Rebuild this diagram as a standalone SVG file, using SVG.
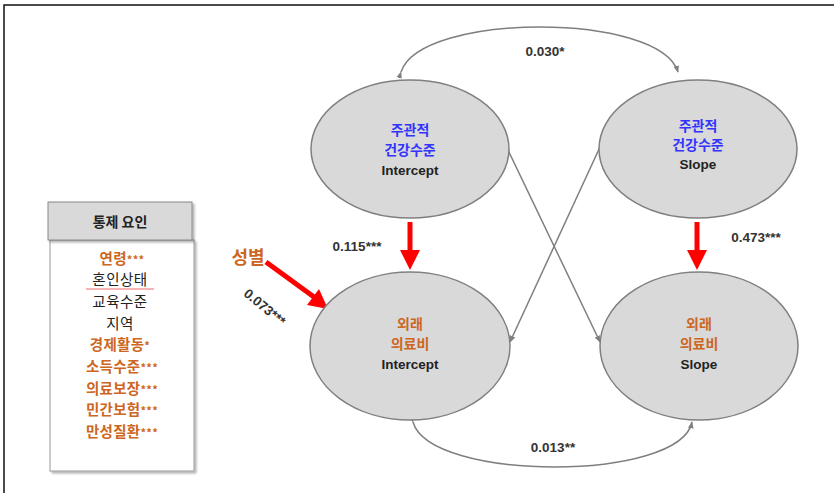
<svg xmlns="http://www.w3.org/2000/svg" width="834" height="493" viewBox="0 0 834 493">
<style>
.node ellipse{fill:#d9d9d9;stroke:#7f7f7f;stroke-width:1.5}
text{font-family:"Noto Sans CJK KR","Liberation Sans",sans-serif;text-anchor:middle}
.ko{font-size:14px;font-weight:bold}
.blue{fill:#3333ff}
.org{fill:#cc6622}
.en{font-family:"Liberation Sans",sans-serif;font-size:13.5px;font-weight:bold;fill:#222}
.lab{font-family:"Liberation Sans",sans-serif;font-size:13.5px;font-weight:bold;fill:#333}
.thin{fill:none;stroke:#7f7f7f;stroke-width:1.5}
.red{fill:none;stroke:#ff0000;stroke-width:5}
.item{font-size:14.5px;fill:#222;letter-spacing:0.5px}
.itemb{font-size:14.5px;font-weight:bold;fill:#cc6622;letter-spacing:0.3px}
</style>
<defs>
<marker id="ga" viewBox="0 0 10 10" refX="9" refY="5" markerWidth="7" markerHeight="7" orient="auto" markerUnits="userSpaceOnUse"><path d="M0,1 L10,5 L0,9 z" fill="#7f7f7f"/></marker>
<filter id="sh" x="-10%" y="-10%" width="130%" height="130%"><feDropShadow dx="2" dy="2" stdDeviation="1.2" flood-color="#000" flood-opacity="0.3"/></filter>
</defs>
<rect width="834" height="493" fill="#fff"/>
<path d="M4,493 L4,5 L834,5" fill="none" stroke="#111" stroke-width="1.5"/>

<g id="controls">
<rect x="50" y="240" width="144" height="231" fill="#fff" stroke="#999" stroke-width="1" filter="url(#sh)"/>
<rect x="48" y="202" width="144" height="38" fill="#d9d9d9" stroke="#888" stroke-width="1" filter="url(#sh)"/>
<text x="120" y="227" style="font-size:14px;font-weight:bold;fill:#222">통제 요인</text>
<text x="122" y="264" class="itemb">연령<tspan style="font-size:11px">***</tspan></text>
<text x="120" y="285" class="item">혼인상태</text>
<line x1="86" y1="289" x2="154" y2="289" stroke="#ee4444" stroke-width="0.8"/>
<text x="120" y="307" class="item">교육수준</text>
<text x="120" y="329" class="item">지역</text>
<text x="120" y="350" class="itemb">경제활동<tspan style="font-size:11px">*</tspan></text>
<text x="122" y="372" class="itemb">소득수준<tspan style="font-size:11px">***</tspan></text>
<text x="122" y="394" class="itemb">의료보장<tspan style="font-size:11px">***</tspan></text>
<text x="122" y="415" class="itemb">민간보험<tspan style="font-size:11px">***</tspan></text>
<text x="122" y="437" class="itemb">만성질환<tspan style="font-size:11px">***</tspan></text>
</g>

<g id="connectors">
<path class="thin" d="M401,72 C420,12 660,12 678,72" marker-start="url(#ga)" marker-end="url(#ga)"/>
<path class="thin" d="M413,422 C430,482 680,482 692,422" marker-start="url(#ga)" marker-end="url(#ga)"/>
<line class="thin" x1="508" y1="150" x2="600" y2="342" marker-end="url(#ga)"/>
<line class="thin" x1="600" y1="147" x2="510" y2="342" marker-end="url(#ga)"/>
<line class="red" x1="410" y1="222" x2="410" y2="252"/>
<path d="M400,250 L420,250 L410,270 z" fill="#ff0000"/>
<line class="red" x1="697" y1="222" x2="697" y2="252"/>
<path d="M687,250 L707,250 L697,270 z" fill="#ff0000"/>
<line class="red" x1="266" y1="262" x2="314" y2="297"/>
<path d="M307,305 L319,289 L328,309 z" fill="#ff0000"/>
<text x="545" y="56" class="lab">0.030*</text>
<text x="553" y="452" class="lab">0.013**</text>
<text x="357" y="251" class="lab">0.115***</text>
<text x="756" y="242" class="lab">0.473***</text>
<text x="265" y="312" class="lab" transform="rotate(40 265 307)">0.073***</text>
<text x="248" y="264" style="font-size:18px;font-weight:bold;fill:#cc6622">성별</text>
</g>

<g id="hi" class="node">
<ellipse cx="410" cy="149" rx="99" ry="69"/>
<text x="410" y="135" class="ko blue">주관적</text>
<text x="410" y="155" class="ko blue">건강수준</text>
<text x="410" y="175" class="en">Intercept</text>
</g>
<g id="hs" class="node">
<ellipse cx="698" cy="149" rx="99" ry="69"/>
<text x="698" y="131" class="ko blue">주관적</text>
<text x="698" y="150" class="ko blue">건강수준</text>
<text x="698" y="169" class="en">Slope</text>
</g>
<g id="ci" class="node">
<ellipse cx="410" cy="346" rx="100" ry="74"/>
<text x="410" y="329" class="ko org">외래</text>
<text x="410" y="349" class="ko org">의료비</text>
<text x="410" y="369" class="en">Intercept</text>
</g>
<g id="cs" class="node">
<ellipse cx="699" cy="346" rx="99" ry="74"/>
<text x="699" y="329" class="ko org">외래</text>
<text x="699" y="349" class="ko org">의료비</text>
<text x="699" y="369" class="en">Slope</text>
</g>
</svg>
